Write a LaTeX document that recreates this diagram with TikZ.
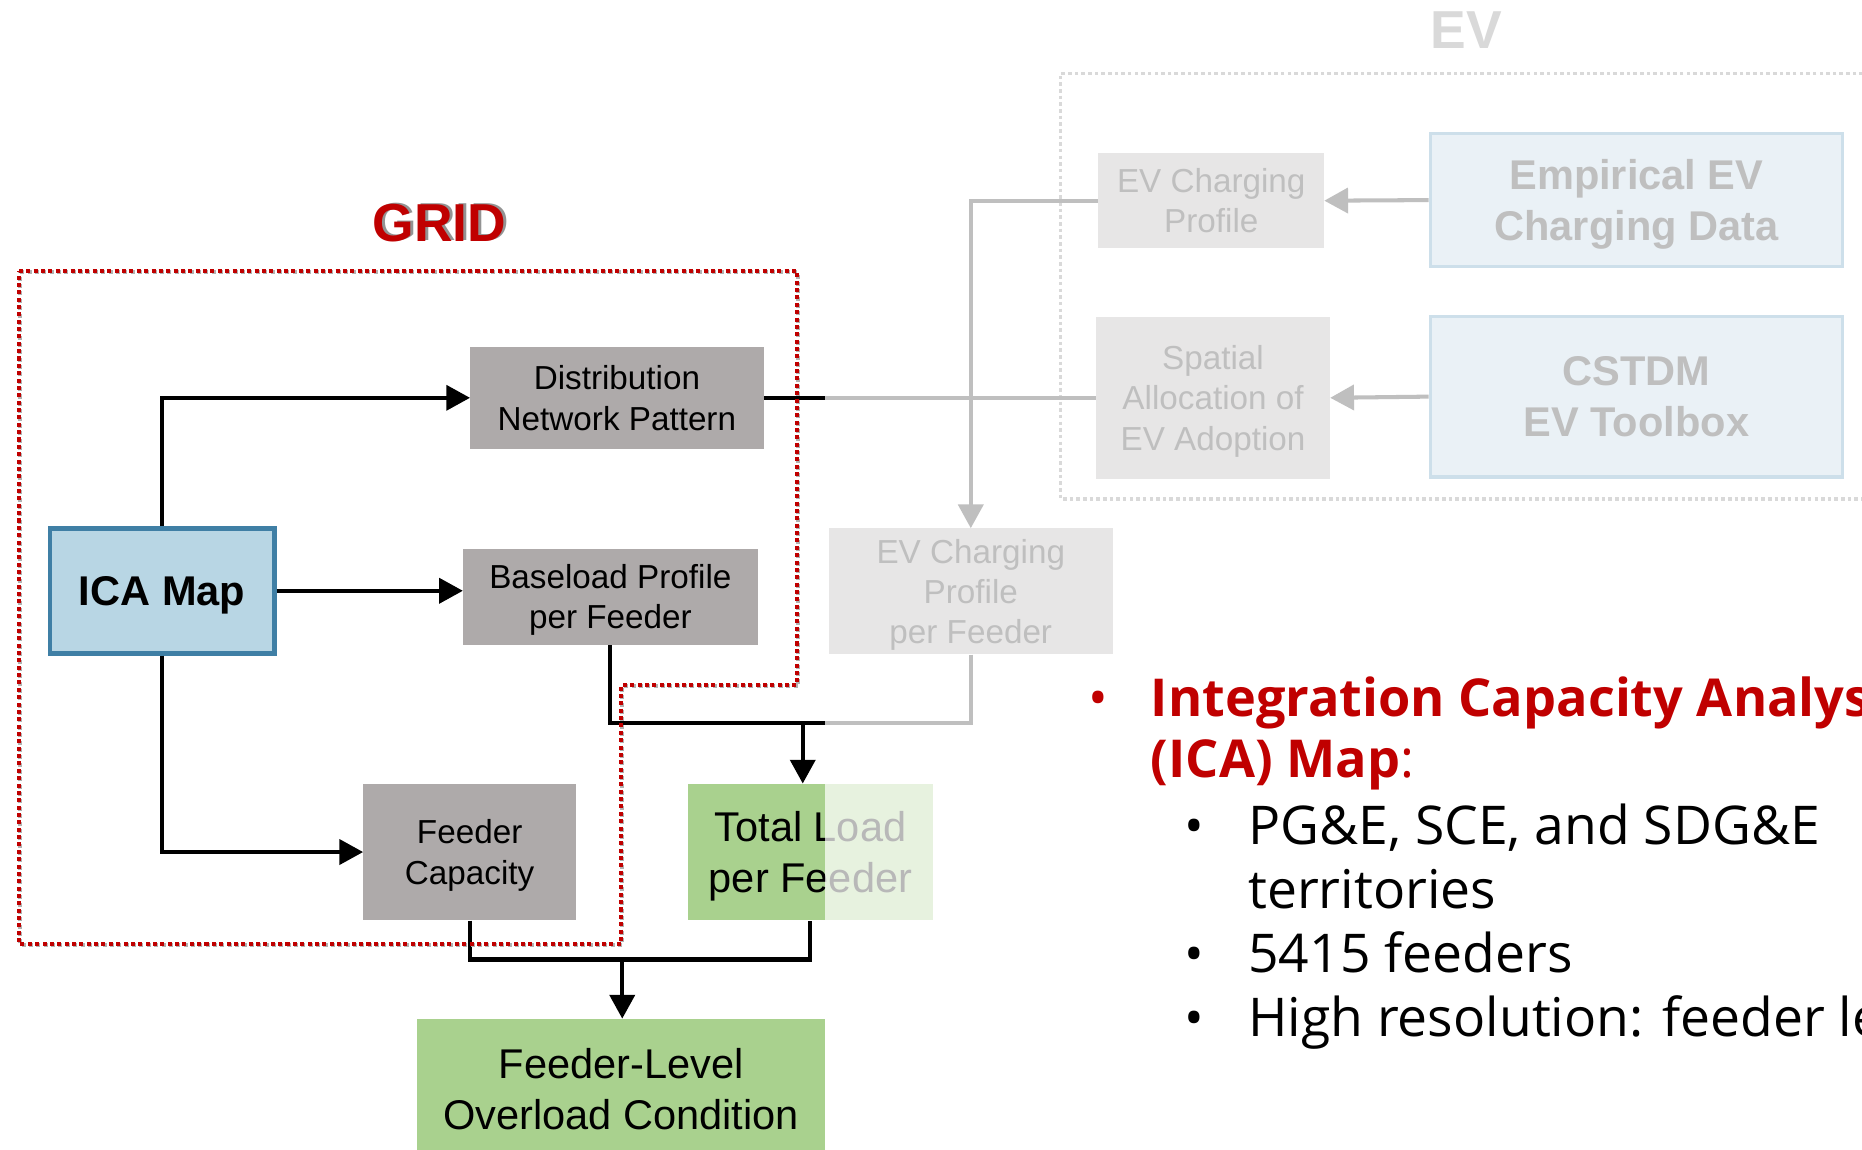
\documentclass[tikz,border=0pt]{standalone}
\usepackage{fontspec}
\setmainfont{Liberation Sans}
\newfontfamily\bulfont{Open Sans}
\usetikzlibrary{arrows.meta}
\definecolor{gridgray}{HTML}{AEAAAA}
\definecolor{evgray}{HTML}{E7E6E6}
\definecolor{evtext}{HTML}{BFBFBF}
\definecolor{icafill}{HTML}{B8D6E4}
\definecolor{icaline}{HTML}{3F7FA5}
\definecolor{greenfill}{HTML}{A9D18E}
\definecolor{evblue}{HTML}{EAF1F6}
\definecolor{evblueline}{HTML}{CDDFEA}
\definecolor{darkred}{HTML}{C00000}
\definecolor{evframe}{HTML}{D9D9D9}
\tikzset{
  box/.style={rectangle, inner sep=0pt, align=center, text depth=-2pt, font=\fontsize{28}{34}\selectfont},
  gridbox/.style={box, fill=gridgray, text=black},
  evbox/.style={box, fill=evgray, text=evtext},
  bigtext/.style={font=\fontsize{35}{43}\selectfont},
  bigbold/.style={font=\bfseries\fontsize{35}{43}\selectfont},
  conn/.style={line width=3.4pt, draw=black},
  evconn/.style={line width=3.4pt, draw=evtext},
  arr/.style={-{Triangle[length=20pt,width=21pt]}},
  gridline/.style={draw=darkred, line width=3.4pt, dash pattern=on 3.4pt off 2.8pt},
  gridshadow/.style={draw=gray!60, line width=3.4pt, dash pattern=on 3.4pt off 2.8pt},
  evline/.style={draw=evframe, line width=3pt, dash pattern=on 3pt off 2.6pt},
  redtxt/.style={font=\bulfont\bfseries\fontsize{44}{52}\selectfont, text=darkred, anchor=base west, inner sep=0pt},
  blktxt/.style={font=\bulfont\fontsize{45}{54}\selectfont, text=black, anchor=base west, inner sep=0pt},
  bul/.style={font=\bulfont\fontsize{44}{53}\selectfont, anchor=base, inner sep=0pt},
}
\begin{document}
\begin{tikzpicture}[x=1pt,y=-1pt]
\useasboundingbox (0,0) rectangle (1568,968);
\clip (0,0) rectangle (1568,968);
\fill[white] (0,0) rectangle (1568,968);

% titles
\node[font=\bfseries\fontsize{45}{54}\selectfont, text=gray!85, inner sep=0pt] (gridsh) at (372.5,187) {GRID};
\node[font=\bfseries\fontsize{45}{54}\selectfont, text=darkred, inner sep=0pt] (gridtitle) at (370,188) {GRID};
\node[font=\bfseries\fontsize{45}{54}\selectfont, text=evframe, inner sep=0pt] (evtitle) at (1235,25) {EV};

% EV frame
\draw[evline] (1580,62) -- (893,62) -- (893,420) -- (1580,420);

% grid nodes
\node[gridbox, minimum width=247pt, minimum height=86pt] (dist) at (519.5,335) {Distribution\\Network Pattern};
\node[gridbox, minimum width=248pt, minimum height=81pt] (base) at (514,502.5) {Baseload Profile\\per Feeder};
\node[box, fill=icafill, draw=icaline, line width=4pt, minimum width=189pt, minimum height=105pt, font=\bfseries\fontsize{35}{43}\selectfont] (ica) at (136.5,497.5) {ICA Map};
\node[gridbox, minimum width=179pt, minimum height=115pt] (cap) at (395.5,717.5) {Feeder\\Capacity};
\node[box, fill=greenfill, bigtext, minimum width=207pt, minimum height=115pt] (tot) at (682.5,717.5) {Total Load\\per Feeder};
\node[box, fill=greenfill, bigtext, minimum width=344pt, minimum height=118pt] (over) at (523,917) {Feeder-Level\\Overload Condition};

% EV nodes
\node[evbox, minimum width=190pt, minimum height=80pt] (evp) at (1020,169) {EV Charging\\Profile};
\node[box, fill=evblue, draw=evblueline, line width=3pt, bigbold, text=evtext, minimum width=347pt, minimum height=112pt] (emp) at (1378,168.5) {Empirical EV\\Charging Data};
\node[evbox, minimum width=197pt, minimum height=136pt] (spa) at (1021.5,335) {Spatial\\Allocation of\\EV Adoption};
\node[box, fill=evblue, draw=evblueline, line width=3pt, bigbold, text=evtext, minimum width=347pt, minimum height=135pt] (cst) at (1378,334) {CSTDM\\EV Toolbox};
\node[evbox, minimum width=239pt, minimum height=106pt] (evf) at (817.5,498) {EV Charging\\Profile\\per Feeder};

% helper coordinates
\coordinate (busA) at (676,609);
\coordinate (fadeA) at (695,609);
\coordinate (fadeB) at (695,335);
\coordinate (busB) at (524,808);

% EV connectors
\draw[evconn, arr] (emp.west) -- (evp.east);
\draw[evconn, arr] (cst.west) -- (spa.east);
\draw[evconn, arr] (evp.west) -| (evf.north);
\draw[evconn] (spa.west) -- (fadeB);
\draw[evconn] (evf.south) |- (fadeA);

% grid connectors
\draw[conn, arr] (ica.north) |- (dist.west);
\draw[conn, arr] (ica.east) -- (ica.east -| base.west);
\draw[conn, arr] (ica.south) |- (cap.west);
\draw[conn] (dist.east) -- (fadeB);
\draw[conn] (base.south) |- (fadeA);
\draw[conn, arr] (busA) -- (busA |- tot.north);
\draw[conn] (cap.south) |- (busB) -| (tot.south);
\draw[conn, arr] (busB) -- (busB |- over.north);

% fade of EV half of total load
\fill[white, opacity=0.72] (tot.north -| fadeA) rectangle (tot.south east);

% GRID frame
\draw[gridshadow] (17,229) -- (672,229) -- (672,578) -- (524,578) -- (524,796) -- (17,796) -- cycle;
\draw[gridline] (16,228) -- (671,228) -- (671,577) -- (523,577) -- (523,795) -- (16,795) -- cycle;

% bullet text
\node[bul, text=darkred] (b0) at (925,603.5) {•};
\node[redtxt] (t1) at (969,603.5) {Integration Capacity Analysis};
\node[redtxt] (t2) at (969,655) {(ICA) Map{\mdseries:}};
\node[bul] (b1) at (1006,711.5) {•};
\node[blktxt] (t3) at (1051,711.5) {PG\&E, SCE, and SDG\&E};
\node[blktxt] (t4) at (1051,765) {territories};
\node[bul] (b2) at (1006,819) {•};
\node[blktxt] (t5) at (1051,819) {5415 feeders};
\node[bul] (b3) at (1006,873) {•};
\node[blktxt] (t6) at (1051,873) {High resolution: feeder level};
\end{tikzpicture}
\end{document}
